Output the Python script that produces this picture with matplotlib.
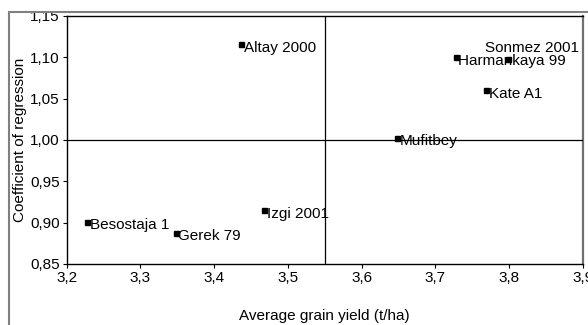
import matplotlib.pyplot as plt
from matplotlib.patches import Rectangle
from matplotlib.ticker import FuncFormatter

plt.rcParams['font.family'] = ['Liberation Sans', 'DejaVu Sans']

# cultivars: average grain yield vs coefficient of regression
cultivars = ['Altay 2000', 'Sonmez 2001', 'Harmankaya 99', 'Kate A1',
             'Mufitbey', 'Izgi 2001', 'Gerek 79', 'Besostaja 1']
grain_yield = [3.437, 3.798, 3.728, 3.769, 3.648, 3.468, 3.348, 3.228]
regression = [1.116, 1.098, 1.100, 1.060, 1.003, 0.915, 0.888, 0.901]

mean_yield = 3.55
mean_b = 1.00

x_ticks = [3.2, 3.3, 3.4, 3.5, 3.6, 3.7, 3.8, 3.9]
y_ticks = [0.85, 0.90, 0.95, 1.00, 1.05, 1.10, 1.15]

# label offsets in pixels (dx, dy); default sits just right of the marker
offsets = {'Sonmez 2001': (-23, 11)}

fig = plt.figure(figsize=(5.88, 3.25), dpi=100)
ax = fig.add_axes([0.1134, 0.1877, 0.8776, 0.7631])

# grey frame round the whole chart
fig.patches.append(Rectangle((9 / 588, -0.05), 1.2, (325 - 11.5) / 325 + 0.05,
                             transform=fig.transFigure, fill=False,
                             edgecolor='#808080', linewidth=1.5))

ax.axvline(mean_yield, color='black', linewidth=0.9, zorder=3)
ax.axhline(mean_b, color='black', linewidth=0.9, zorder=3)

ax.plot(grain_yield, regression, 's', color='black', markersize=3.6, zorder=4)

for name, x, y in zip(cultivars, grain_yield, regression):
    dx, dy = offsets.get(name, (2.5, -3.5))
    ax.annotate(name, (x, y), xytext=(dx, dy), textcoords='offset pixels',
                ha='left', va='center', fontsize=11, zorder=2)

ax.set_xlim(3.2, 3.9)
ax.set_ylim(0.85, 1.15)
ax.set_xticks(x_ticks)
ax.set_yticks(y_ticks)
ax.xaxis.set_major_formatter(FuncFormatter(lambda v, p: f'{v:.1f}'.replace('.', ',')))
ax.yaxis.set_major_formatter(FuncFormatter(lambda v, p: f'{v:.2f}'.replace('.', ',')))
ax.tick_params(direction='out', length=3, width=0.8, labelsize=11, pad=2)

for s in ax.spines.values():
    s.set_linewidth(1.0)
ax.spines['right'].set_color('#707070')
ax.spines['right'].set_linewidth(1.6)

ax.set_xlabel('Average grain yield (t/ha)', fontsize=11, labelpad=17)
ax.set_ylabel('Coefficient of regression', fontsize=11, labelpad=2)

fig.savefig('out.png', dpi=100)
